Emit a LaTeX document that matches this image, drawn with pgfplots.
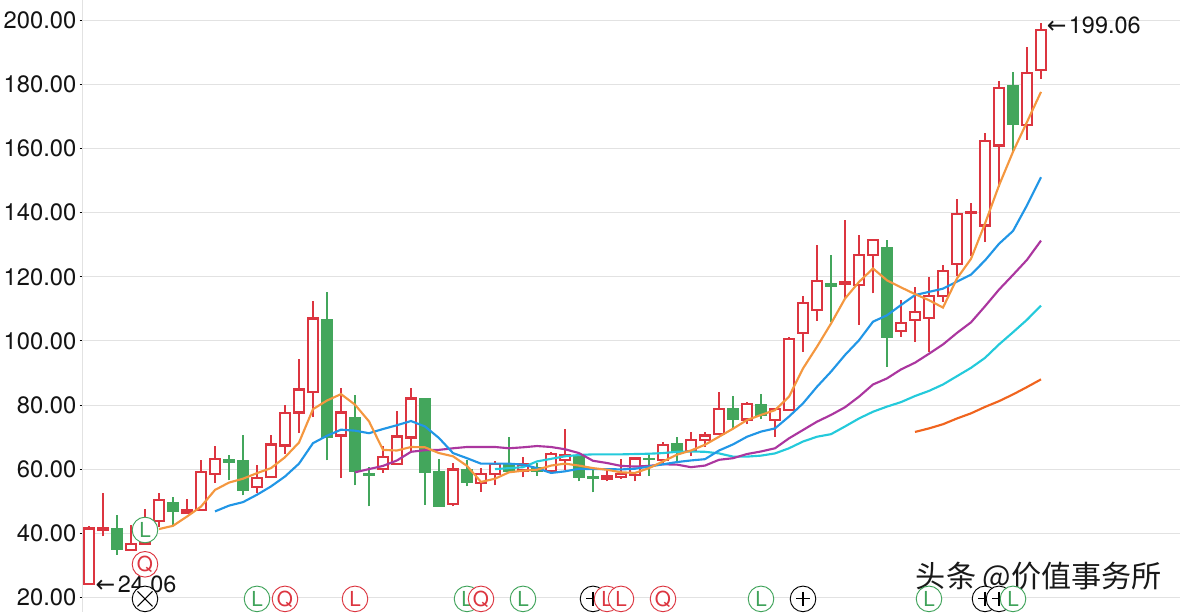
\documentclass[border=0pt]{standalone}
\usepackage{fontspec}
\setmainfont{TeX Gyre Heros}
\newfontfamily\arrowfont{DejaVu Sans}
\newfontfamily\cjk{Noto Sans CJK SC}
\usepackage{pgfplots}
\pgfplotsset{compat=1.18}
\definecolor{cred}{HTML}{DC3540}
\definecolor{cgreen}{HTML}{43A65C}
\definecolor{ma5}{HTML}{F4973F}
\definecolor{ma10}{HTML}{2196E6}
\definecolor{ma20}{HTML}{AB369F}
\definecolor{ma30}{HTML}{24CADB}
\definecolor{ma60}{HTML}{F0641E}
\definecolor{gridc}{HTML}{E2E2E2}
\definecolor{sgreen}{HTML}{3FA35A}
% index, open, high, low, close
\newcommand\R[5]{%
  \pgfmathsetmacro\xa{#1-0.34}\pgfmathsetmacro\xb{#1+0.34}%
  \addplot[cred,line width=1.7pt,forget plot] coordinates {(#1,#4) (#1,#3)};
  \addplot[cred,fill=white,line width=1.7pt,forget plot] coordinates {(\xa,#2) (\xb,#2) (\xb,#5) (\xa,#5)} --cycle;
}
\newcommand\G[5]{%
  \pgfmathsetmacro\xa{#1-0.42}\pgfmathsetmacro\xb{#1+0.42}%
  \addplot[cgreen,line width=1.7pt,forget plot] coordinates {(#1,#4) (#1,#3)};
  \addplot[cgreen,fill=cgreen,line width=0pt,forget plot] coordinates {(\xa,#2) (\xb,#2) (\xb,#5) (\xa,#5)} --cycle;
}
\newcommand\Sig[4]{%
  \addplot[only marks,mark=*,mark size=9.6pt,mark options={fill=white,draw=#1,line width=0.7pt},
    nodes near coords={\fontsize{15.5}{15.5}\selectfont #2},
    every node near coord/.style={anchor=center,text=#1,inner sep=0pt},forget plot] coordinates {(#3,#4)};
}
\newcommand\Mk[4]{%
  \addplot[only marks,mark=*,mark size=9.6pt,mark options={fill=white,draw=black,line width=0.7pt},forget plot] coordinates {(#3,#4)};
  \addplot[only marks,mark=#1,mark size=#2,mark options={draw=black,line width=0.8pt},forget plot] coordinates {(#3,#4)};
}
\newcommand\WM[3]{\node[anchor=west,inner sep=0pt,text=#3,font=\fontsize{22.6}{24}\selectfont\cjk] at ([xshift=#1,yshift=#2]axis cs:59.05,26.1) {头条 @价值事务所};}
\begin{document}
\begin{tikzpicture}[x=1pt,y=1pt]
\useasboundingbox (-61.5pt,0pt) rectangle (823.5pt,459pt);
\begin{axis}[
  at={(0pt,0pt)},anchor=south west,
  scale only axis,width=823.5pt,height=459pt,
  xmin=-0.5,xmax=77.93,ymin=15.41,ymax=206.37,
  axis x line=none,axis y line=left,
  axis line style={-,draw=gridc,line width=0.75pt},
  xtick=\empty,
  ytick={20,40,60,80,100,120,140,160,180,200},
  ymajorgrids,grid style={gridc,line width=0.75pt},
  tick align=outside,major tick length=1.8pt,
  ytick style={black,line width=0.75pt},
  yticklabel style={font=\fontsize{17.8}{20}\selectfont,text=black!92,/pgf/number format/assume math mode=true,
    /pgf/number format/fixed,/pgf/number format/fixed zerofill,/pgf/number format/precision=2,inner sep=2.3pt},
  scaled y ticks=false,
]
\R{0}{24.06}{42.3}{24.06}{41.5}
\R{1}{41}{52.5}{39}{41.5}
\G{2}{41.5}{45.6}{33.2}{34.8}
\R{3}{34.8}{42.6}{34.5}{36.7}
\R{4}{36.8}{47.5}{36.7}{41}
\R{5}{43.75}{52.5}{41.9}{50.4}
\G{6}{49.7}{51.25}{42.3}{46.8}
\R{7}{46.5}{50.6}{46.5}{47.3}
\R{8}{47.3}{62.9}{47.3}{59}
\R{9}{58.5}{67.3}{55.8}{63.2}
\G{10}{63.1}{64.4}{56.5}{62.2}
\G{11}{62.8}{70.7}{51.8}{53.3}
\R{12}{54.5}{61.25}{52.5}{57.3}
\R{13}{57.6}{70.7}{57.6}{67.7}
\R{14}{67.4}{80}{64.8}{77.6}
\R{15}{77.7}{94.3}{71.2}{84.8}
\R{16}{84.1}{112.3}{76.2}{107}
\G{17}{106.8}{115.2}{62.7}{70}
\R{18}{70.5}{85.3}{57.2}{77.7}
\G{19}{76.2}{83.2}{54.9}{59.3}
\G{20}{58.7}{60.8}{48.4}{58.1}
\R{21}{60.1}{67.3}{58.8}{63.8}
\R{22}{61.7}{78.2}{61.7}{70.2}
\R{23}{69.9}{85.3}{65.8}{82}
\G{24}{81.9}{81.9}{48.9}{58.8}
\G{25}{59.1}{63.1}{48.4}{48.4}
\R{26}{49.2}{61.9}{48.4}{59.9}
\G{27}{60}{62.9}{54.6}{55.9}
\R{28}{55.6}{60.3}{52.9}{58.5}
\R{29}{58.4}{62.4}{54.9}{61.7}
\G{30}{61.9}{70}{59.2}{59.2}
\R{31}{59.6}{63.7}{57.4}{61.4}
\G{32}{60.6}{62}{57.9}{59.2}
\R{33}{59.5}{65.2}{59.5}{64.6}
\R{34}{62.8}{72.5}{59.6}{64.5}
\G{35}{64.2}{64.2}{56.2}{57.5}
\G{36}{57.7}{60}{52.7}{57}
\R{37}{57.1}{59.8}{56.2}{57.9}
\R{38}{57.5}{63.1}{57}{58.4}
\R{39}{58.2}{63.9}{56.2}{63.3}
\G{40}{63.3}{64.5}{58}{63}
\R{41}{62.9}{68.6}{61.9}{67.6}
\G{42}{68.1}{70}{61.9}{65.5}
\R{43}{65.6}{71.5}{64}{69.1}
\R{44}{69}{71.7}{67}{70.5}
\R{45}{71}{84.2}{71}{78.8}
\G{46}{78.9}{82.9}{72.9}{75.5}
\R{47}{75.5}{81}{74}{80.4}
\G{48}{80.1}{83.3}{75.5}{76.6}
\R{49}{75.3}{78.8}{70.1}{78.8}
\R{50}{78.4}{101.3}{78.4}{100.6}
\R{51}{102.4}{114.1}{96.6}{111.9}
\R{52}{109.6}{130}{106.3}{118.7}
\G{53}{117.8}{126.9}{106}{117.1}
\R{54}{117.9}{137.6}{113.2}{118.4}
\R{55}{117.4}{133}{105.1}{126.7}
\R{56}{126.7}{131.5}{114.8}{131.5}
\G{57}{129.1}{131.6}{91.9}{101}
\R{58}{103}{112.9}{101.3}{105.5}
\R{59}{106.5}{116.7}{99.7}{109}
\R{60}{107.2}{119.8}{96.6}{114}
\R{61}{114}{123.8}{112.2}{121.8}
\R{62}{123.9}{144.4}{120.4}{139.6}
\R{63}{140}{143.1}{126.4}{140.2}
\R{64}{136}{164.9}{130.8}{162.3}
\R{65}{161}{181}{148}{178.9}
\G{66}{179.7}{183.8}{159}{167.4}
\R{67}{167.3}{191.8}{162.8}{183.6}
\R{68}{184.5}{199.06}{181.8}{197.1}

% MA60
\addplot[ma60,line width=1.6pt,forget plot] coordinates {(59,71.6) (60,72.7) (61,74) (62,75.8) (63,77.4) (64,79.4) (65,81.2) (66,83.3) (67,85.6) (68,88)};
% MA30
\addplot[ma30,line width=1.6pt,forget plot] coordinates {(29,60) (30,60.3) (31,60.6) (32,62.4) (33,63.2) (34,64) (35,64.4) (36,64.6) (37,64.6) (38,64.6) (39,64.7) (40,64.8) (41,65) (42,65.4) (43,65.5) (44,65.4) (45,64.9) (46,63.9) (47,63.9) (48,64.2) (49,64.9) (50,66.5) (51,68.6) (52,70.1) (53,70.9) (54,73.3) (55,75.8) (56,77.9) (57,79.5) (58,80.9) (59,82.8) (60,84.4) (61,86.4) (62,89) (63,91.6) (64,94.7) (65,98.9) (66,102.7) (67,106.6) (68,111)};
% MA20
\addplot[ma20,line width=1.6pt,forget plot] coordinates {(19,59) (20,60) (21,61) (22,62.7) (23,65.4) (24,65.9) (25,66) (26,66.5) (27,66.9) (28,66.9) (29,66.9) (30,66.5) (31,66.8) (32,67.2) (33,66.9) (34,66.2) (35,65) (36,62.6) (37,61.9) (38,61) (39,60.8) (40,61) (41,61.5) (42,61.4) (43,60.6) (44,61.1) (45,62.9) (46,63.4) (47,64.7) (48,65.5) (49,66.5) (50,69.6) (51,72.2) (52,74.8) (53,76.9) (54,79.3) (55,82.6) (56,86.4) (57,88.3) (58,91.1) (59,93.2) (60,96) (61,98.9) (62,102.5) (63,105.8) (64,110.8) (65,116) (66,120.6) (67,125.3) (68,131.3)};
% MA10
\addplot[ma10,line width=1.6pt,forget plot] coordinates {(9,46.8) (10,48.6) (11,49.7) (12,52) (13,54.6) (14,57.7) (15,61.7) (16,68.1) (17,70.4) (18,72.3) (19,72) (20,71.2) (21,72.5) (22,73.7) (23,75) (24,73.3) (25,69.7) (26,65) (27,63.4) (28,61.7) (29,61.7) (30,61.7) (31,61.4) (32,60.3) (33,58.8) (34,59.3) (35,60.1) (36,60) (37,60) (38,59.9) (39,60.1) (40,60.8) (41,61.5) (42,62.2) (43,62.7) (44,63.1) (45,65.8) (46,67.7) (47,70.1) (48,71.7) (49,72.7) (50,76.4) (51,80.5) (52,85.7) (53,90.4) (54,95.6) (55,100.2) (56,106) (57,108) (58,111.2) (59,114.3) (60,115.3) (61,116.3) (62,118.5) (63,120.7) (64,125.1) (65,130.3) (66,134.3) (67,142.3) (68,151.1)};
% MA5
\addplot[ma5,line width=1.6pt,forget plot] coordinates {(5,41.3) (6,42.3) (7,45.2) (8,48.3) (9,53.5) (10,55.8) (11,57) (12,58.75) (13,60.3) (14,63.7) (15,68.3) (16,78.7) (17,81.4) (18,83.4) (19,80.1) (20,74.9) (21,66) (22,65.8) (23,66.9) (24,66.8) (25,65) (26,64) (27,61) (28,56) (29,57) (30,59) (31,59.5) (32,59.8) (33,61.1) (34,61.7) (35,61.1) (36,60.3) (37,59.8) (38,59) (39,58.8) (40,60.3) (41,62.4) (42,64.5) (43,65.8) (44,67.6) (45,70.1) (46,72.6) (47,75.3) (48,76.9) (49,78.4) (50,82.6) (51,91.4) (52,98.2) (53,105.4) (54,113.2) (55,118.4) (56,122.6) (57,118.9) (58,116.7) (59,114.6) (60,112.7) (61,110.4) (62,119.5) (63,125.6) (64,136.6) (65,148.5) (66,159) (67,168.3) (68,177.7)};

% signal markers
\Sig{sgreen}{L}{4}{41}
\Sig{cred}{Q}{4}{30.3}
\Mk{x}{8pt}{4}{19.5}
\Sig{sgreen}{L}{12}{19.5}
\Sig{cred}{Q}{14}{19.5}
\Sig{cred}{L}{19}{19.5}
\Sig{sgreen}{L}{27}{19.5}
\Sig{cred}{Q}{28}{19.5}
\Sig{sgreen}{L}{31}{19.5}
\Mk{+}{5.2pt}{36}{19.5}
\Sig{cred}{L}{37}{19.5}
\Sig{cred}{L}{38}{19.5}
\Sig{cred}{Q}{41}{19.5}
\Sig{sgreen}{L}{48}{19.5}
\Mk{+}{5.2pt}{51}{19.5}
\Sig{sgreen}{L}{60}{19.5}
\Mk{+}{5.2pt}{64}{19.5}
\Mk{+}{5.2pt}{65}{19.5}
\Sig{sgreen}{L}{66}{19.5}

\node[anchor=west,inner sep=0pt,text=black!92,font=\fontsize{17.6}{20}\selectfont] at (axis cs:0.46,23.9) {{\arrowfont ←}\kern1.8pt 24.06};
\node[anchor=west,inner sep=0pt,text=black!92,font=\fontsize{17.6}{20}\selectfont] at (axis cs:68.4,198.4) {{\arrowfont ←}\kern1.8pt 199.06};
\WM{-.7pt}{0pt}{white}
\WM{.7pt}{0pt}{white}
\WM{0pt}{-.7pt}{white}
\WM{0pt}{.7pt}{white}
\WM{0pt}{0pt}{black!90}
\end{axis}
\end{tikzpicture}
\end{document}
